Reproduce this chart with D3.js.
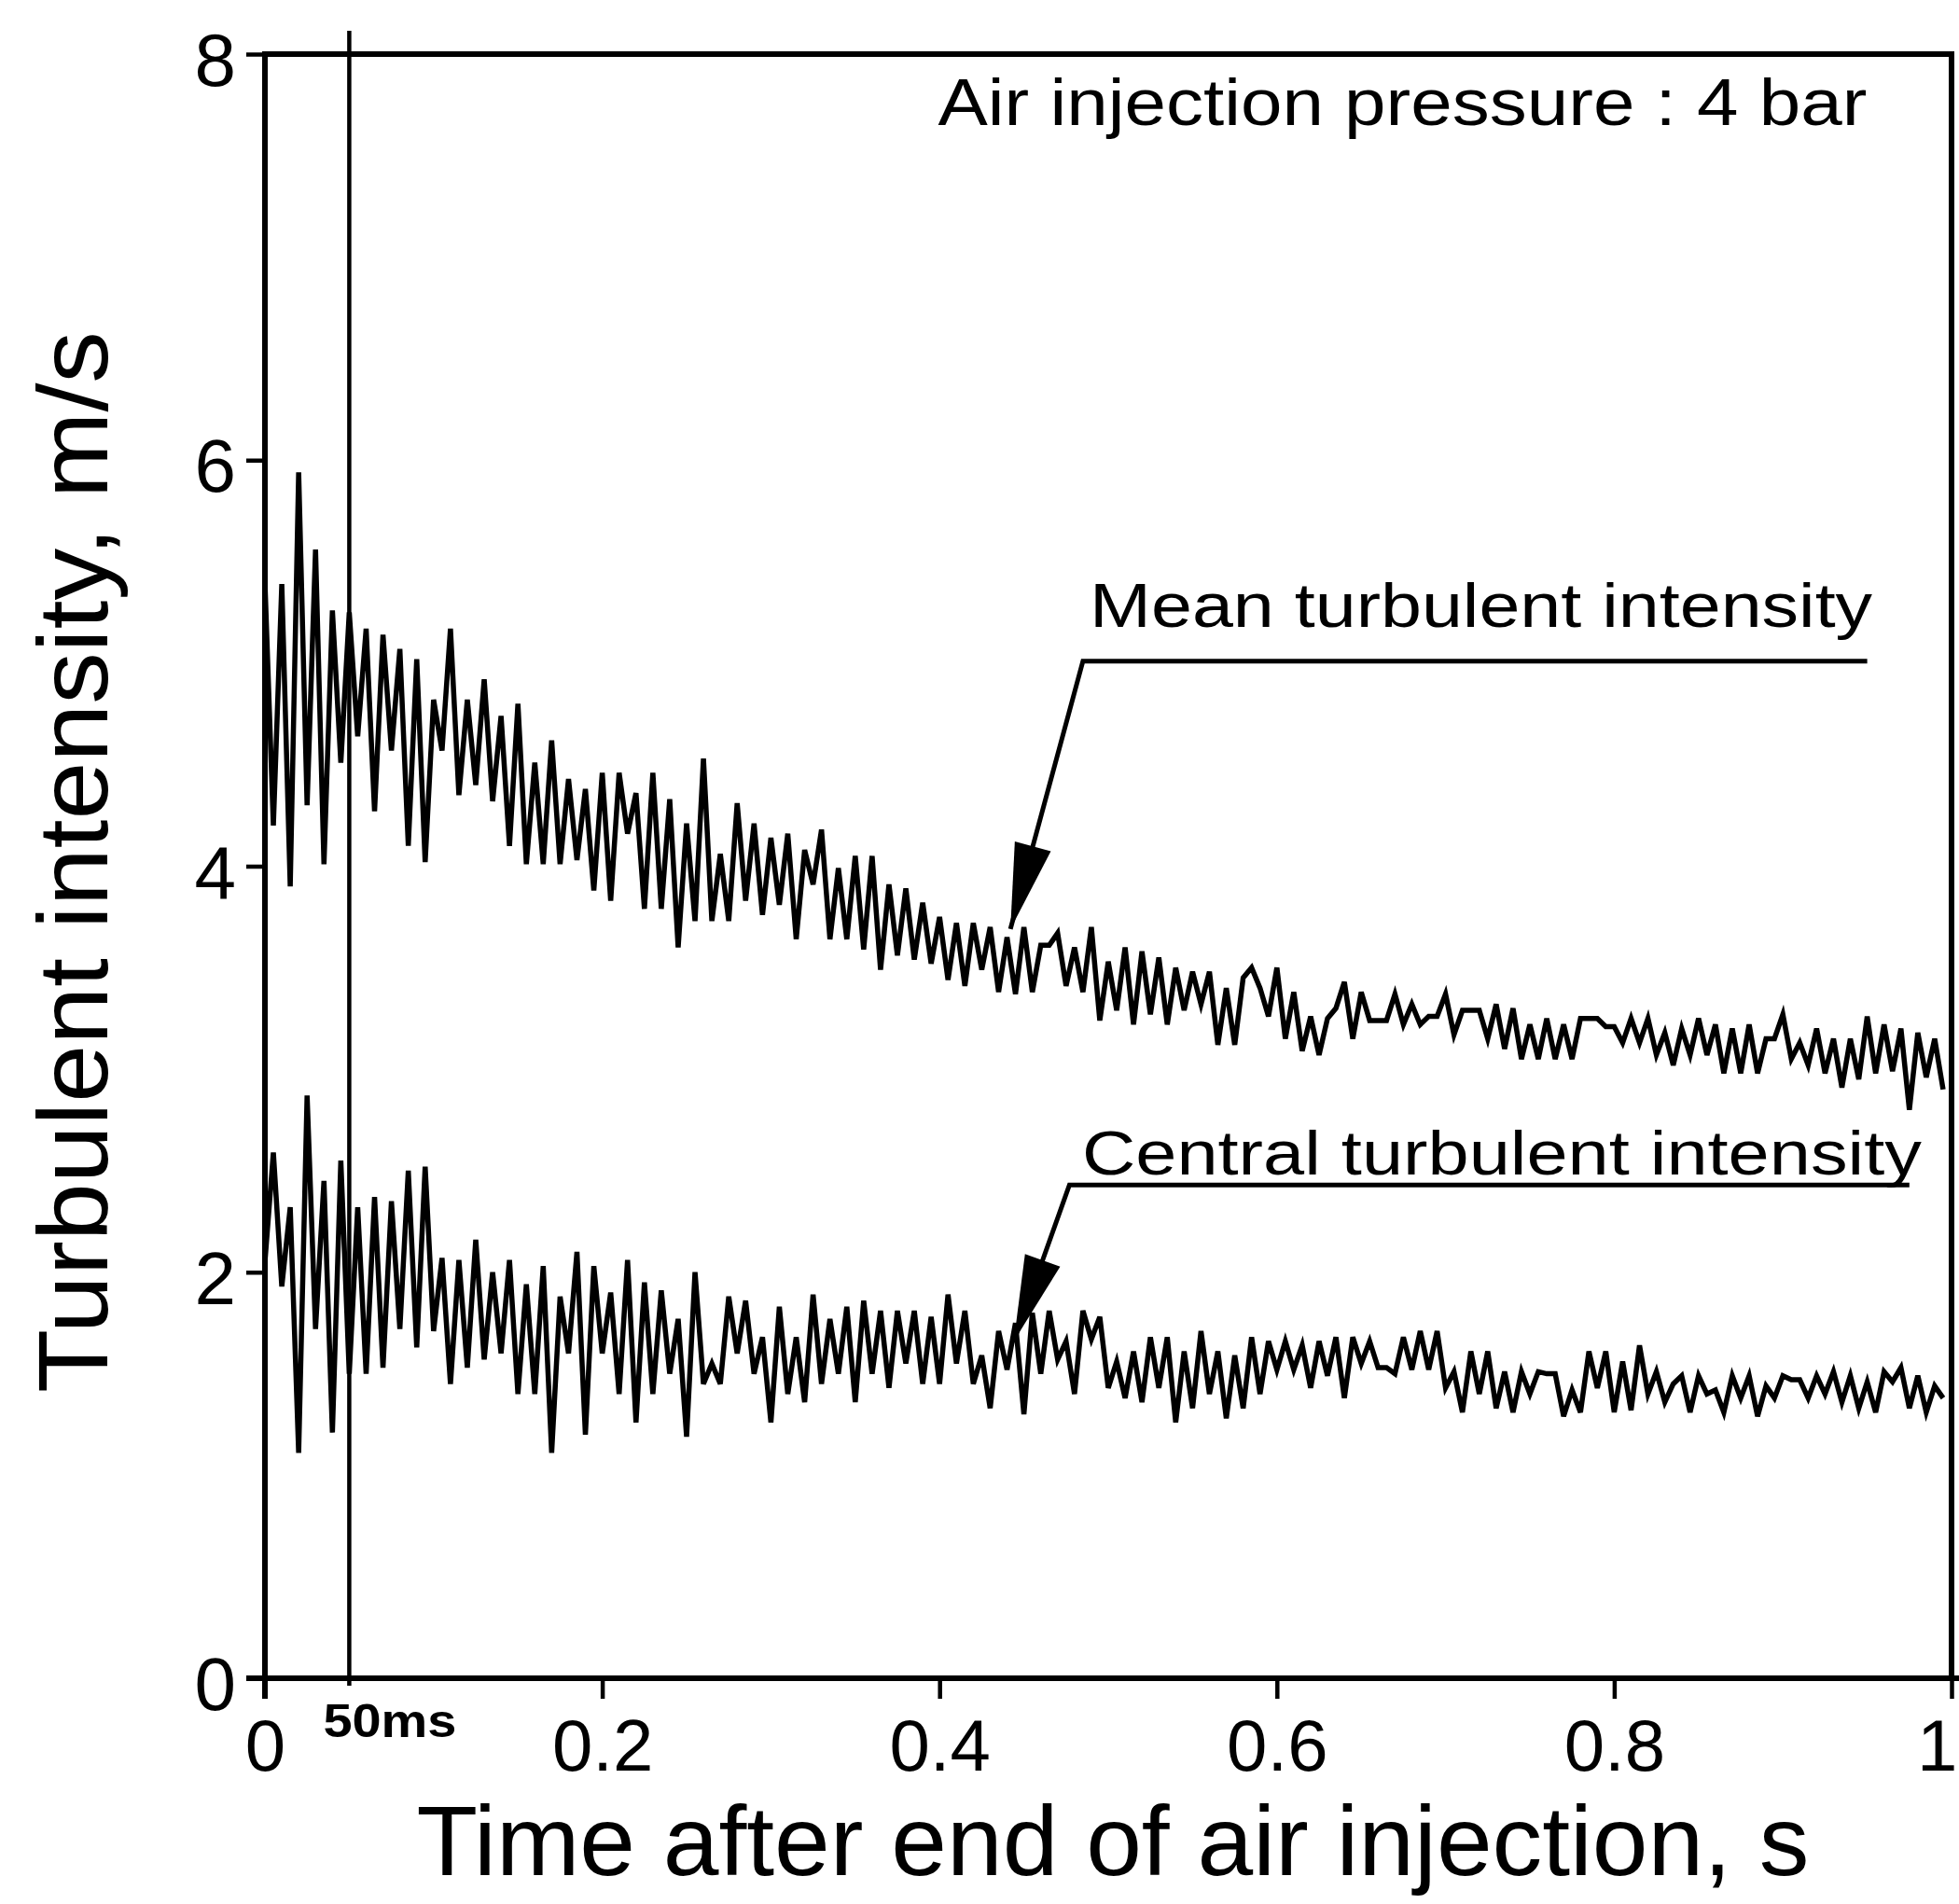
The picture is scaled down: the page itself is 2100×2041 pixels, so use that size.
<!DOCTYPE html>
<html>
<head>
<meta charset="utf-8">
<title>Turbulent intensity after end of air injection</title>
<script src="https://d3js.org/d3.v7.min.js"></script>
<style>
    body { margin: 0; background: #fff; }
    svg { display: block; }
    text { font-family: "Liberation Sans", Arial, Helvetica, sans-serif; fill: #000; }
    .axis path, .axis line { stroke: #000; }
    .axis path { stroke-width: 6; }
    .axis line { stroke-width: 4.5; }
    .frame { stroke: #000; stroke-width: 6; fill: none; }
    .series { fill: none; stroke: #000; stroke-width: 5.5; }
</style>
</head>
<body>
<svg width="2100" height="2041"></svg>
<script>
// readings every 5 ms
var sampleStep = 0.005;

var meanIntensity = [
    5.40, 4.20, 5.39, 3.90, 5.94, 4.30, 5.56, 4.01, 5.26, 4.51,
    5.25, 4.64, 5.17, 4.27, 5.14, 4.57, 5.07, 4.10, 5.02, 4.02,
    4.82, 4.57, 5.17, 4.35, 4.82, 4.40, 4.92, 4.32, 4.74, 4.10,
    4.80, 4.01, 4.51, 4.01, 4.62, 4.01, 4.43, 4.03, 4.38, 3.88,
    4.46, 3.83, 4.46, 4.16, 4.36, 3.79, 4.46, 3.79, 4.33, 3.60,
    4.21, 3.73, 4.53, 3.73, 4.06, 3.73, 4.31, 3.83, 4.21, 3.76,
    4.14, 3.81, 4.16, 3.64, 4.08, 3.91, 4.18, 3.64, 3.99, 3.64,
    4.05, 3.59, 4.05, 3.49, 3.91, 3.56, 3.89, 3.54, 3.82, 3.52,
    3.75, 3.44, 3.72, 3.41, 3.72, 3.49, 3.70, 3.38, 3.65, 3.37,
    3.70, 3.38, 3.61, 3.61, 3.67, 3.41, 3.60, 3.38, 3.70, 3.24,
    3.53, 3.29, 3.60, 3.22, 3.58, 3.27, 3.55, 3.22, 3.50, 3.29,
    3.48, 3.32, 3.48, 3.12, 3.40, 3.12, 3.45, 3.50, 3.40, 3.26,
    3.50, 3.15, 3.38, 3.09, 3.26, 3.07, 3.25, 3.30, 3.43, 3.15,
    3.38, 3.24, 3.24, 3.24, 3.37, 3.22, 3.32, 3.22, 3.26, 3.26,
    3.37, 3.17, 3.29, 3.29, 3.29, 3.15, 3.32, 3.10, 3.30, 3.05,
    3.22, 3.05, 3.25, 3.05, 3.22, 3.05, 3.25, 3.25, 3.25, 3.21,
    3.21, 3.13, 3.25, 3.13, 3.25, 3.07, 3.18, 3.02, 3.20, 3.07,
    3.25, 3.07, 3.22, 2.98, 3.20, 2.98, 3.22, 2.98, 3.15, 3.15,
    3.27, 3.05, 3.13, 3.02, 3.20, 2.98, 3.15, 2.91, 3.15, 2.95,
    3.26, 2.98, 3.22, 2.99, 3.20, 2.80, 3.18, 2.96, 3.15, 2.90
];

var centralIntensity = [
    2.05, 2.59, 1.93, 2.32, 1.11, 2.87, 1.72, 2.45, 1.21, 2.55,
    1.50, 2.32, 1.50, 2.37, 1.53, 2.35, 1.72, 2.50, 1.63, 2.52,
    1.71, 2.07, 1.45, 2.06, 1.53, 2.16, 1.57, 2.00, 1.60, 2.06,
    1.40, 1.94, 1.40, 2.03, 1.11, 1.88, 1.60, 2.10, 1.20, 2.03,
    1.60, 1.90, 1.40, 2.06, 1.26, 1.95, 1.40, 1.91, 1.50, 1.77,
    1.19, 2.00, 1.45, 1.55, 1.45, 1.88, 1.60, 1.86, 1.50, 1.68,
    1.26, 1.83, 1.40, 1.68, 1.36, 1.89, 1.45, 1.77, 1.50, 1.83,
    1.36, 1.86, 1.50, 1.81, 1.43, 1.81, 1.55, 1.81, 1.45, 1.78,
    1.45, 1.89, 1.55, 1.81, 1.45, 1.59, 1.33, 1.71, 1.52, 1.75,
    1.30, 1.80, 1.50, 1.81, 1.57, 1.66, 1.40, 1.81, 1.67, 1.78,
    1.43, 1.56, 1.38, 1.61, 1.36, 1.68, 1.43, 1.68, 1.26, 1.61,
    1.33, 1.71, 1.40, 1.61, 1.28, 1.59, 1.33, 1.68, 1.40, 1.66,
    1.52, 1.66, 1.52, 1.64, 1.43, 1.66, 1.49, 1.68, 1.38, 1.68,
    1.55, 1.66, 1.53, 1.53, 1.50, 1.68, 1.52, 1.71, 1.52, 1.71,
    1.43, 1.51, 1.31, 1.61, 1.40, 1.61, 1.33, 1.51, 1.31, 1.51,
    1.40, 1.51, 1.50, 1.50, 1.29, 1.42, 1.31, 1.61, 1.43, 1.61,
    1.31, 1.56, 1.32, 1.64, 1.40, 1.51, 1.36, 1.45, 1.49, 1.31,
    1.49, 1.40, 1.42, 1.31, 1.49, 1.38, 1.49, 1.29, 1.44, 1.38,
    1.49, 1.47, 1.47, 1.38, 1.49, 1.40, 1.51, 1.36, 1.49, 1.33,
    1.46, 1.31, 1.51, 1.46, 1.53, 1.33, 1.49, 1.31, 1.44, 1.38
];

var xTicks = [0, 0.2, 0.4, 0.6, 0.8, 1];
var xTickLabels = ["0", "0.2", "0.4", "0.6", "0.8", "1"];
var yTicks = [0, 2, 4, 6, 8];
var markerTime = 0.05;
var markerLabel = "50ms";

var svg = d3.select("svg");

var x = d3.scaleLinear().domain([0, 1]).range([284, 2092]);
var y = d3.scaleLinear().domain([0, 8]).range([1799, 58]);

// frame: top and right sides
svg.append("path")
    .attr("class", "frame")
    .attr("d", "M" + x(0) + "," + y(8) + "H" + x(1) + "V" + y(0));

// x axis
var xAxis = svg.append("g")
    .attr("class", "axis")
    .attr("transform", "translate(0," + y(0) + ")")
    .call(d3.axisBottom(x)
        .tickValues(xTicks)
        .tickFormat(function(d, i) { return xTickLabels[i]; })
        .tickSize(22)
        .tickSizeOuter(0)
        .tickPadding(22));
xAxis.select(".domain").attr("d", "M" + (x(0) - 20) + ",0H2100");
xAxis.selectAll("text").attr("font-size", 78).attr("font-family", null);
// last label sits against the right edge
xAxis.selectAll(".tick").filter(function(d) { return d === 1; })
    .select("text").attr("text-anchor", "end").attr("x", 2098 - x(1));

// y axis
var yAxis = svg.append("g")
    .attr("class", "axis")
    .attr("transform", "translate(" + x(0) + ",0)")
    .call(d3.axisLeft(y)
        .tickValues(yTicks)
        .tickSize(20)
        .tickSizeOuter(0)
        .tickPadding(11));
yAxis.select(".domain").attr("d", "M0," + (y(0) + 22) + "V" + (y(8) - 3));
yAxis.selectAll("text").attr("font-size", 80).attr("font-family", null).attr("dy", "0.42em");

// 50 ms marker
svg.append("line")
    .attr("x1", x(markerTime)).attr("x2", x(markerTime))
    .attr("y1", y(0) + 8).attr("y2", y(8) - 25)
    .attr("stroke", "#000").attr("stroke-width", 4.5);
svg.append("text")
    .attr("x", x(markerTime) - 28)
    .attr("y", y(0) + 63)
    .attr("font-size", 50)
    .attr("font-weight", "bold")
    .attr("textLength", 143)
    .attr("lengthAdjust", "spacingAndGlyphs")
    .text(markerLabel);

// series
var line = d3.line()
    .x(function(d, i) { return x(i * sampleStep); })
    .y(function(d) { return y(d); });

svg.append("path").datum(meanIntensity).attr("class", "series").attr("d", line);
svg.append("path").datum(centralIntensity).attr("class", "series").attr("d", line);

// labelled arrows
var callouts = [
    {text: "Mean turbulent intensity", at: [0.489, 5.18], width: 839,
     bar: [0.485, 0.95, 5.01], tip: [0.442, 3.69]},
    {text: "Central turbulent intensity", at: [0.4845, 2.48], width: 900,
     bar: [0.477, 0.975, 2.43], tip: [0.444, 1.66]}
];

callouts.forEach(function(c) {
    svg.append("text")
        .attr("x", x(c.at[0]))
        .attr("y", y(c.at[1]))
        .attr("font-size", 66)
        .attr("textLength", c.width)
        .attr("lengthAdjust", "spacingAndGlyphs")
        .text(c.text);

    var bx = x(c.bar[0]), by = y(c.bar[2]);
    var tx = x(c.tip[0]), ty = y(c.tip[1]);
    svg.append("path")
        .attr("d", "M" + x(c.bar[1]) + "," + by + "H" + bx + "L" + tx + "," + ty)
        .attr("fill", "none").attr("stroke", "#000").attr("stroke-width", 5);

    // filled head
    var dx = tx - bx, dy = ty - by, len = Math.sqrt(dx * dx + dy * dy);
    var ux = dx / len, uy = dy / len;
    var hl = 92, hw = 20;
    var cx = tx - ux * hl, cy = ty - uy * hl;
    svg.append("path")
        .attr("d", "M" + tx + "," + ty +
            "L" + (cx - uy * hw) + "," + (cy + ux * hw) +
            "L" + (cx + uy * hw) + "," + (cy - ux * hw) + "Z")
        .attr("fill", "#000");
});

svg.append("text")
    .attr("x", x(0.399))
    .attr("y", y(7.65))
    .attr("font-size", 70)
    .attr("textLength", 996)
    .attr("lengthAdjust", "spacingAndGlyphs")
    .text("Air injection pressure : 4 bar");

// axis titles
svg.append("text")
    .attr("x", 1193)
    .attr("y", 2010)
    .attr("text-anchor", "middle")
    .attr("font-size", 106)
    .attr("textLength", 1493)
    .attr("lengthAdjust", "spacingAndGlyphs")
    .text("Time after end of air injection, s");

svg.append("text")
    .attr("transform", "translate(115,924) rotate(-90)")
    .attr("text-anchor", "middle")
    .attr("font-size", 106)
    .attr("textLength", 1138)
    .attr("lengthAdjust", "spacingAndGlyphs")
    .text("Turbulent intensity, m/s");
</script>
</body>
</html>
